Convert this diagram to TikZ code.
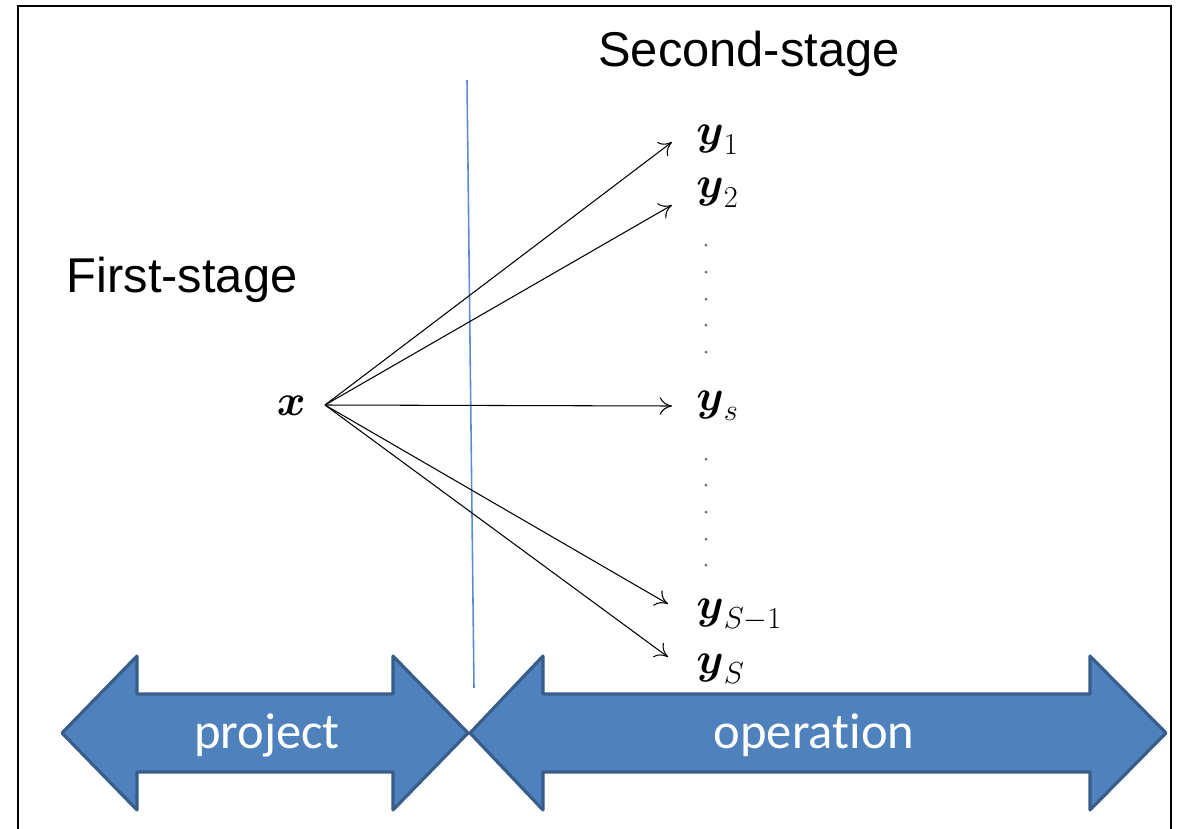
\documentclass[tikz,border=0pt]{standalone}
\usepackage{amsmath}
\usepackage{fontspec}
\usetikzlibrary{arrows.meta}
\setmainfont{Liberation Sans}
\newfontfamily\arrowfont[RawFeature={-liga}]{Carlito}
\definecolor{officeblue}{RGB}{79,129,189}
\definecolor{officeedge}{RGB}{56,93,138}
\definecolor{divider}{RGB}{90,140,210}
\begin{document}
\begin{tikzpicture}[x=0.02cm,y=-0.02cm,
  stagelabel/.style={font=\fontsize{27.8}{32}\selectfont, inner sep=0pt},
  mathlabel/.style={font=\fontsize{23}{27}\selectfont, inner sep=0pt, anchor=west},
  branch/.style={->, line width=0.6pt, >={To[length=7pt,width=10pt]}},
  phasearrow/.style={fill=officeblue, draw=officeedge, line width=1.8pt, line join=round},
  phasetext/.style={text=white, font=\arrowfont\fontsize{28.8}{34}\selectfont, inner sep=0pt},
  gapdot/.style={fill=black!60, draw=none}]
\useasboundingbox (0,0) rectangle (1181,829);

% page frame
\draw[line width=1.2pt] (18,829) -- (18,6) -- (1171,6) -- (1171,829);

% stage titles
\node[stagelabel] (second) at (749,54) {Second-stage};
\node[stagelabel] (first) at (182,280) {First-stage};

% divider between stages
\draw[divider, line width=0.9pt] (467,80) -- (474,688);

% first-stage decision and scenario outcomes
\node[mathlabel, anchor=east] (x) at (306,406) {$\boldsymbol{x}$};
\coordinate (root) at (325,405);
\node[mathlabel] (y1) at (696,140) {$\boldsymbol{y}_1$};
\node[mathlabel] (y2) at (696,193) {$\boldsymbol{y}_2$};
\node[mathlabel] (ys) at (696,406) {$\boldsymbol{y}_s$};
\node[mathlabel] (ySm) at (696,615) {$\boldsymbol{y}_{S-1}$};
\node[mathlabel] (yS) at (696,669) {$\boldsymbol{y}_S$};
\coordinate (t1) at (672,142);
\coordinate (t2) at (672,205);
\coordinate (ts) at (672,406);
\coordinate (tSm) at (668,604);
\coordinate (tS) at (668,657);
\foreach \t in {t1,t2,ts,tSm,tS}
  \draw[branch] (root) -- (\t);

% omitted scenarios
\foreach \yy in {245,272,299,325,352,459,485,512,539,565}
  \fill[gapdot] (706,\yy) circle (1.5);

% project / operation phases
\draw[phasearrow] (62,733) -- (137,656) -- (137,694) -- (393,694) -- (393,656)
  -- (468,733) -- (393,810) -- (393,772) -- (137,772) -- (137,810) -- cycle;
\draw[phasearrow] (470,733) -- (543,656) -- (543,694) -- (1090,694) -- (1090,656)
  -- (1166,733) -- (1090,810) -- (1090,772) -- (543,772) -- (543,810) -- cycle;
\node[phasetext] (project) at (267,735) {project};
\node[phasetext] (operation) at (814,735) {operation};
\end{tikzpicture}
\end{document}
